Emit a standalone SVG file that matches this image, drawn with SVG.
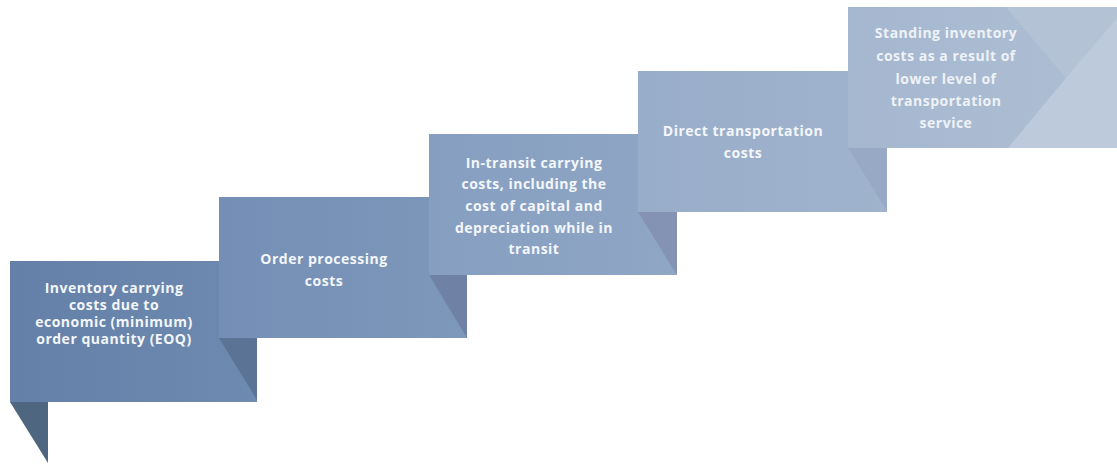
<svg xmlns="http://www.w3.org/2000/svg" width="1117" height="465" viewBox="0 0 1117 465">
  <defs>
    <linearGradient id="g1" x1="0" y1="0" x2="1" y2="0">
      <stop offset="0" stop-color="#6480a8"/>
      <stop offset="1" stop-color="#6e8ab0"/>
    </linearGradient>
    <linearGradient id="g2" x1="0" y1="0" x2="1" y2="0">
      <stop offset="0" stop-color="#748eb5"/>
      <stop offset="1" stop-color="#7e98bb"/>
    </linearGradient>
    <linearGradient id="g3" x1="0" y1="0" x2="1" y2="0">
      <stop offset="0" stop-color="#869ec0"/>
      <stop offset="1" stop-color="#8fa6c5"/>
    </linearGradient>
    <linearGradient id="g4" x1="0" y1="0" x2="1" y2="0">
      <stop offset="0" stop-color="#98adc9"/>
      <stop offset="1" stop-color="#a0b3cd"/>
    </linearGradient>
    <linearGradient id="g5" x1="0" y1="0" x2="1" y2="0">
      <stop offset="0" stop-color="#a5b7cf"/>
      <stop offset="1" stop-color="#acbdd3"/>
    </linearGradient>
    <style>
      .lbl { font-family: "Open Sans", "Liberation Sans", sans-serif; font-weight: 700; font-size: 14px; letter-spacing: 0.5px; fill: #f3f6fa; text-anchor: middle; }
      .lbl5 { fill: #eef2f7; }
    </style>
  </defs>

  <rect width="1117" height="465" fill="#ffffff"/>

  <!-- arrow head band behind the top step -->
  <g id="arrow-head">
    <rect x="1005" y="7" width="112" height="141" fill="#bdcadb"/>
    <polygon points="1005,7 1117,7 1117,18 1066,78" fill="#b4c2d5"/>
  </g>

  <!-- step 1 -->
  <g id="step1">
    <polygon points="10,402 48,402 48,463" fill="#4f6680"/>
    <rect x="10" y="261" width="247" height="141" fill="url(#g1)"/>
    <text class="lbl" x="114" y="293">Inventory carrying</text>
    <text class="lbl" x="114" y="310">costs due to</text>
    <text class="lbl" x="114" y="327">economic (minimum)</text>
    <text class="lbl" x="114" y="344">order quantity (EOQ)</text>
  </g>

  <!-- step 2 -->
  <g id="step2">
    <polygon points="219,338 257,338 257,400" fill="#5b7394"/>
    <rect x="219" y="197" width="248" height="141" fill="url(#g2)"/>
    <text class="lbl" x="324" y="264">Order processing</text>
    <text class="lbl" x="324" y="286">costs</text>
  </g>

  <!-- step 3 -->
  <g id="step3">
    <polygon points="429,275 467,275 467,338" fill="#6f82a5"/>
    <rect x="429" y="134" width="248" height="141" fill="url(#g3)"/>
    <text class="lbl" x="534" y="168">In-transit carrying</text>
    <text class="lbl" x="534" y="189">costs, including the</text>
    <text class="lbl" x="534" y="211">cost of capital and</text>
    <text class="lbl" x="534" y="233">depreciation while in</text>
    <text class="lbl" x="534" y="254">transit</text>
  </g>

  <!-- step 4 -->
  <g id="step4">
    <polygon points="638,212 677,212 677,275" fill="#8492b4"/>
    <rect x="638" y="71" width="249" height="141" fill="url(#g4)"/>
    <text class="lbl" x="743" y="136">Direct transportation</text>
    <text class="lbl" x="743" y="158">costs</text>
  </g>

  <!-- step 5 (ends in a chevron) -->
  <g id="step5">
    <polygon points="848,148 887,148 887,211" fill="#98a9c6"/>
    <polygon points="848,7 1006,7 1066,78 1008,148 848,148" fill="url(#g5)"/>
    <text class="lbl lbl5" x="946" y="38">Standing inventory</text>
    <text class="lbl lbl5" x="946" y="61">costs as a result of</text>
    <text class="lbl lbl5" x="946" y="84">lower level of</text>
    <text class="lbl lbl5" x="946" y="106">transportation</text>
    <text class="lbl lbl5" x="946" y="128">service</text>
  </g>
</svg>
